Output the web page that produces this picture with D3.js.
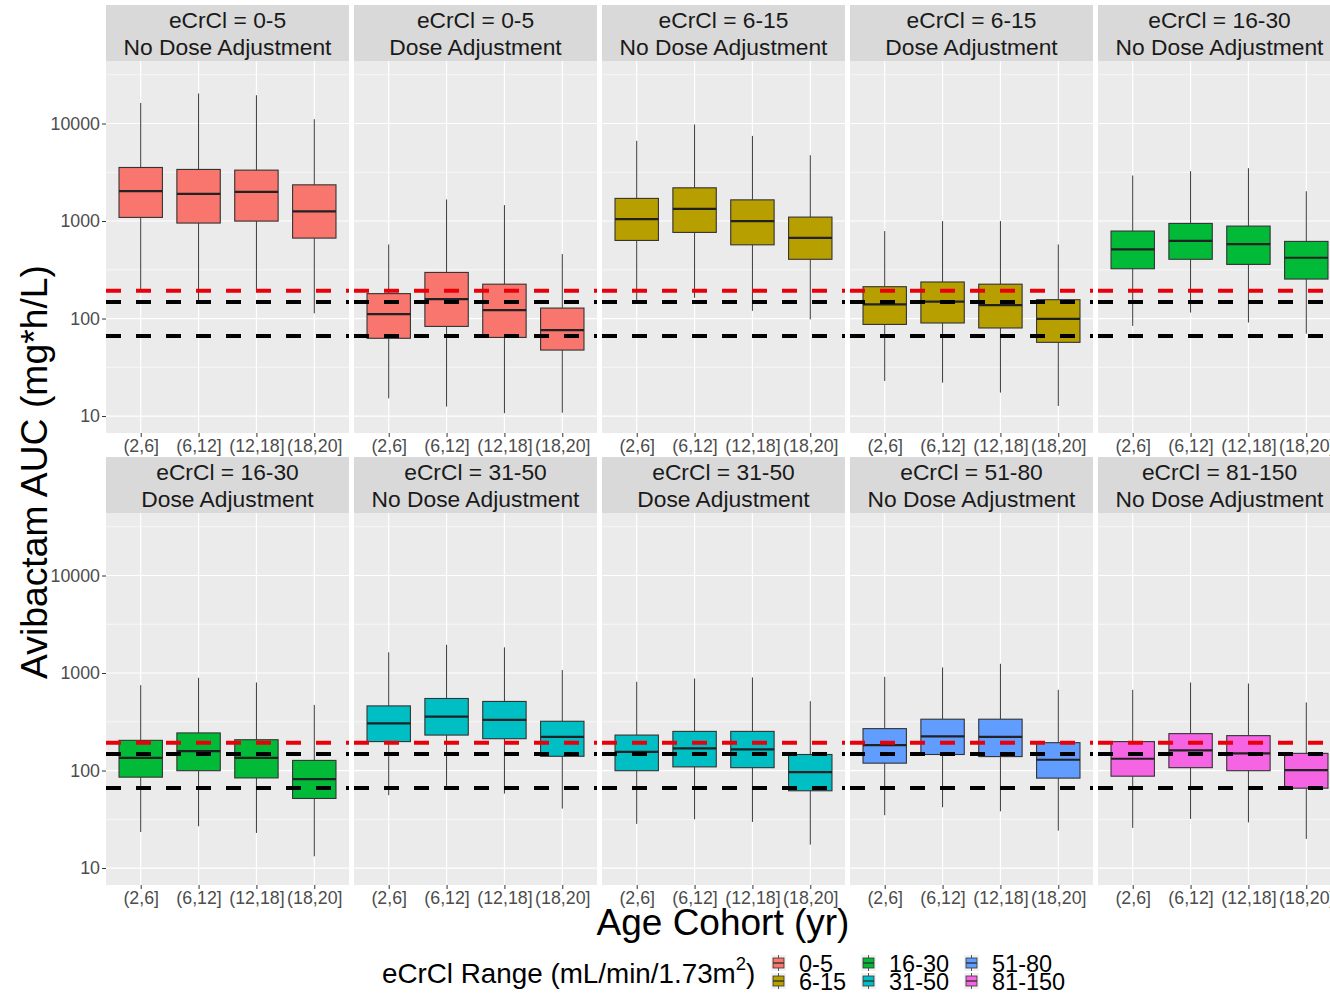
<!DOCTYPE html>
<html><head><meta charset="utf-8">
<script src="https://cdn.jsdelivr.net/npm/d3@7"></script>
<style>
body{margin:0;background:#fff}
svg{display:block;font-family:"Liberation Sans",Arial,Helvetica,sans-serif}
</style>
</head><body>
<svg id="chart" width="1330" height="993"></svg>
<script>
// ---------------- data ----------------
const cohorts = ["(2,6]", "(6,12]", "(12,18]", "(18,20]"];
const rangeGroups = ["0-5", "6-15", "16-30", "31-50", "51-80", "81-150"];
const groupColors = ["#F8766D", "#B79F00", "#00BA38", "#00BFC4", "#619CFF", "#F564E3"];

const panelRange = ["0-5", "0-5", "6-15", "6-15", "16-30", "16-30", "31-50", "31-50", "51-80", "81-150"];
const panelDose = ["No Dose Adjustment", "Dose Adjustment", "No Dose Adjustment", "Dose Adjustment",
  "No Dose Adjustment", "Dose Adjustment", "No Dose Adjustment", "Dose Adjustment",
  "No Dose Adjustment", "No Dose Adjustment"];
const panelGroup = [0, 0, 1, 1, 2, 2, 3, 3, 4, 5];

const whiskerLow = [
  [190, 150, 188, 113],
  [15.2, 12.5, 10.7, 10.8],
  [150, 163, 120, 98],
  [22.9, 22, 17.4, 12.7],
  [84, 115, 91, 70],
  [23.4, 26.8, 22.9, 13.2],
  [55.8, 66.5, 58, 40.7],
  [28.4, 31.6, 29.7, 17.4],
  [34.8, 42, 38.2, 24.2],
  [25.8, 31.9, 29.4, 19.9]
];
const q1 = [
  [1089, 953, 998, 668],
  [62.7, 83, 64, 47.5],
  [632, 764, 570, 405],
  [87, 90, 80, 57],
  [324, 405, 359, 254],
  [85.5, 99.6, 84, 51.7],
  [198, 231, 212, 140],
  [99.6, 109, 107, 62],
  [119, 146, 139, 83.6],
  [87.5, 107, 99.6, 65.9]
];
const median = [
  [2025, 1900, 1990, 1253],
  [111, 158, 122, 76],
  [1045, 1334, 998, 673],
  [140, 149, 137, 99],
  [512, 627, 580, 420],
  [135, 158, 135, 81.7],
  [305, 357, 330, 221],
  [155, 169, 165, 96.4],
  [182, 224, 221, 129],
  [132, 161, 150, 101]
];
const q3 = [
  [3540, 3380, 3325, 2350],
  [180, 297, 225, 128],
  [1706, 2190, 1648, 1097],
  [212, 237, 225, 156],
  [789, 945, 887, 618],
  [204, 243, 207, 127],
  [460, 548, 511, 320],
  [231, 252, 252, 146],
  [269, 336, 336, 193],
  [198, 239, 228, 150]
];
const whiskerHigh = [
  [16260, 20300, 19500, 11070],
  [575, 1664, 1456, 458],
  [6640, 9770, 7460, 4730],
  [789, 998, 998, 575],
  [2930, 3240, 3480, 2020],
  [751, 893, 800, 471],
  [1630, 1950, 1834, 1072],
  [813, 879, 901, 514],
  [914, 1140, 1244, 672],
  [672, 800, 781, 499]
];

const yTicks = [10, 100, 1000, 10000];
const yMinorTicks = [31.62, 316.2, 3162, 31623];
const yDomain = [6.7, 43750];
const refRed = 193;
const refBlack = [148, 66];

const yTitle = "Avibactam AUC (mg*h/L)";
const xTitle = "Age Cohort (yr)";

// ---------------- layout ----------------
const svg = d3.select("#chart");
const panelW = 243, panelH = 372, stripH = 56;
const colX0 = 106, colStep = 248;
const rowTop = [5, 457];
const FONT_AXIS = 17.8;

const x = d3.scalePoint().domain(cohorts).range([0, panelW]).padding(0.6);
const boxW = x.step() * 0.75;
const y = d3.scaleLog().domain(yDomain).range([panelH, 0]);

panelRange.forEach((rg, i) => {
  const col = i % 5, row = Math.floor(i / 5);
  const px = colX0 + col * colStep;
  const sy = rowTop[row];
  const py = sy + stripH;
  const color = groupColors[panelGroup[i]];

  // strip
  const strip = svg.append("g").attr("transform", `translate(${px},${sy})`);
  strip.append("rect").attr("width", panelW).attr("height", stripH).attr("fill", "#D9D9D9");
  strip.append("text").attr("x", panelW / 2).attr("y", 22.5).attr("text-anchor", "middle")
    .attr("font-size", 22.8).attr("fill", "#1A1A1A").text("eCrCl = " + rg);
  strip.append("text").attr("x", panelW / 2).attr("y", 50).attr("text-anchor", "middle")
    .attr("font-size", 22.8).attr("fill", "#1A1A1A").text(panelDose[i]);

  const g = svg.append("g").attr("transform", `translate(${px},${py})`);
  g.append("rect").attr("width", panelW).attr("height", panelH).attr("fill", "#EBEBEB");

  // grid
  g.selectAll(".minor").data(yMinorTicks).enter().append("line")
    .attr("x1", 0).attr("x2", panelW).attr("y1", d => y(d)).attr("y2", d => y(d))
    .attr("stroke", "#fff").attr("stroke-width", 0.6);
  g.selectAll(".major").data(yTicks).enter().append("line")
    .attr("x1", 0).attr("x2", panelW).attr("y1", d => y(d)).attr("y2", d => y(d))
    .attr("stroke", "#fff").attr("stroke-width", 1.2);
  g.selectAll(".vmajor").data(cohorts).enter().append("line")
    .attr("x1", d => x(d)).attr("x2", d => x(d)).attr("y1", 0).attr("y2", panelH)
    .attr("stroke", "#fff").attr("stroke-width", 1.2);

  // boxplots
  const data = cohorts.map((c, j) => ({
    c, lo: whiskerLow[i][j], q1: q1[i][j], md: median[i][j], q3: q3[i][j], hi: whiskerHigh[i][j]
  }));
  const bg = g.selectAll(".box").data(data).enter().append("g");
  bg.append("line").attr("x1", d => x(d.c)).attr("x2", d => x(d.c))
    .attr("y1", d => y(d.hi)).attr("y2", d => y(d.q3))
    .attr("stroke", "#3a3a3a").attr("stroke-width", 1);
  bg.append("line").attr("x1", d => x(d.c)).attr("x2", d => x(d.c))
    .attr("y1", d => y(d.q1)).attr("y2", d => y(d.lo))
    .attr("stroke", "#3a3a3a").attr("stroke-width", 1);
  bg.append("rect").attr("x", d => x(d.c) - boxW / 2).attr("width", boxW)
    .attr("y", d => y(d.q3)).attr("height", d => y(d.q1) - y(d.q3))
    .attr("fill", color).attr("stroke", "#333333").attr("stroke-width", 1.1);
  bg.append("line").attr("x1", d => x(d.c) - boxW / 2).attr("x2", d => x(d.c) + boxW / 2)
    .attr("y1", d => y(d.md)).attr("y2", d => y(d.md))
    .attr("stroke", "#222").attr("stroke-width", 2.2);

  // reference lines
  g.append("line").attr("x1", 0).attr("x2", panelW).attr("y1", y(refRed)).attr("y2", y(refRed))
    .attr("stroke", "#E8000B").attr("stroke-width", 4).attr("stroke-dasharray", "15,15");
  refBlack.forEach(v => {
    g.append("line").attr("x1", 0).attr("x2", panelW).attr("y1", y(v)).attr("y2", y(v))
      .attr("stroke", "#000").attr("stroke-width", 4).attr("stroke-dasharray", "15,15");
  });

  // x axis
  const xa = g.append("g").attr("transform", `translate(0,${panelH})`)
    .call(d3.axisBottom(x).tickSize(4).tickPadding(2));
  xa.select(".domain").remove();
  xa.selectAll(".tick line").attr("stroke", "#333333").attr("stroke-width", 1);
  xa.selectAll(".tick text").attr("fill", "#4D4D4D").attr("font-size", FONT_AXIS)
    .attr("font-family", "Liberation Sans, Arial, sans-serif");

  // y axis (left column)
  if (col === 0) {
    const ya = g.append("g").call(d3.axisLeft(y).tickValues(yTicks).tickFormat(d3.format("d")).tickSize(4).tickPadding(2));
    ya.select(".domain").remove();
    ya.selectAll(".tick line").attr("stroke", "#333333").attr("stroke-width", 1);
    ya.selectAll(".tick text").attr("fill", "#4D4D4D").attr("font-size", FONT_AXIS)
      .attr("font-family", "Liberation Sans, Arial, sans-serif");
  }
});

// axis titles
svg.append("text").attr("transform", "translate(47,472) rotate(-90)")
  .attr("text-anchor", "middle").attr("font-size", 37.3).attr("fill", "#000").text(yTitle);
svg.append("text").attr("x", 723).attr("y", 935)
  .attr("text-anchor", "middle").attr("font-size", 37).attr("fill", "#000").text(xTitle);

// legend
const lt = svg.append("text").attr("x", 382).attr("y", 983).attr("font-size", 27.8).attr("fill", "#000");
lt.append("tspan").text("eCrCl Range (mL/min/1.73m");
lt.append("tspan").attr("font-size", 18.5).attr("dy", -13).text("2");
lt.append("tspan").attr("dy", 13).text(")");

const legCols = [772, 862, 965];
const legRows = [963, 981];
rangeGroups.forEach((lab, k) => {
  const c = Math.floor(k / 2), r = k % 2;
  const kx = legCols[c], ky = legRows[r];
  const kg = svg.append("g").attr("transform", `translate(${kx},${ky})`);
  kg.append("rect").attr("x", -1).attr("y", -8).attr("width", 15).attr("height", 16).attr("fill", "#F2F2F2");
  kg.append("line").attr("x1", 6.5).attr("x2", 6.5).attr("y1", -8).attr("y2", 8).attr("stroke", "#333").attr("stroke-width", 0.8);
  kg.append("rect").attr("x", 1).attr("y", -5).attr("width", 11).attr("height", 10)
    .attr("fill", groupColors[k]).attr("stroke", "#333").attr("stroke-width", 0.8);
  kg.append("line").attr("x1", 1).attr("x2", 12).attr("y1", 0).attr("y2", 0).attr("stroke", "#333").attr("stroke-width", 1.4);
  svg.append("text").attr("x", kx + 27).attr("y", ky + 8.5).attr("font-size", 23.5).attr("fill", "#000").text(lab);
});
</script>
</body></html>
